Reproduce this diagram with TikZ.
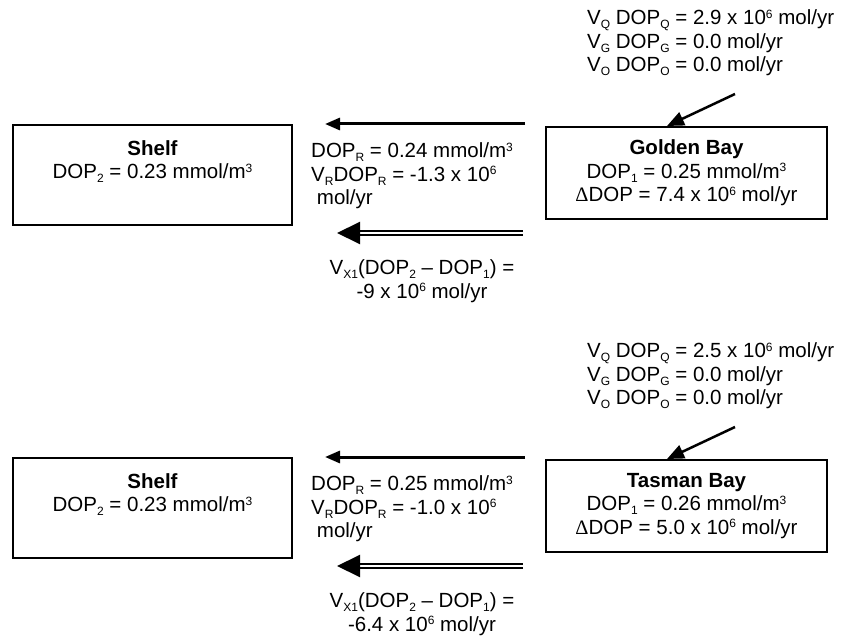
\documentclass[tikz,border=0pt]{standalone}
\usepackage{fontspec}
\setmainfont{Liberation Sans}
\newfontfamily\dsym{Liberation Serif}
\usetikzlibrary{arrows.meta,calc}
\newcommand{\sbx}[1]{\raisebox{-0.35ex}{\fontsize{12}{12}\selectfont #1}}
\newcommand{\spx}[1]{\raisebox{0.6ex}{\fontsize{12}{12}\selectfont #1}}
\tikzset{
  txt/.style={font=\fontsize{20.5}{23.5}\selectfont, inner sep=0pt},
  boxnode/.style={draw, line width=2pt, txt, align=center},
  singlearrow/.style={line width=3pt, -{Triangle[length=15pt,width=12pt]}},
  doublearrow/.style={line width=2pt, double, double distance=2.5pt, -{Triangle[length=23pt,width=22pt]}},
  diagarrow/.style={line width=2.5pt, -{Triangle[length=17pt,width=14pt]}}
}
\begin{document}
\begin{tikzpicture}[x=1pt,y=-1pt]
\useasboundingbox (0,0) rectangle (847,639);
% ---------- top block ----------
\node[txt, anchor=west, align=left] (qtop) at (587,43)
  {V\sbx{Q} DOP\sbx{Q} = 2.9 x 10\spx{6} mol/yr\\
   V\sbx{G} DOP\sbx{G} = 0.0 mol/yr\\
   V\sbx{O} DOP\sbx{O} = 0.0 mol/yr};
\node[boxnode, minimum width=279pt, minimum height=100pt] (shelfA) at (152.5,175)
  {\textbf{Shelf}\\DOP\sbx{2} = 0.23 mmol/m\spx{3}\\\strut};
\node[boxnode, minimum width=281pt, minimum height=92pt] (gbay) at (686.5,173)
  {\textbf{Golden Bay}\\DOP\sbx{1} = 0.25 mmol/m\spx{3}\\{\dsym Δ}DOP = 7.4 x 10\spx{6} mol/yr};
\coordinate (qaT) at (735,94);
\draw[diagarrow] (qaT) -- ([xshift=122pt]gbay.north west);
\coordinate (raT) at (525,124);
\coordinate (rbT) at (325,124);
\draw[singlearrow] (raT) -- (rbT);
\node[txt, anchor=west, align=left] (rtxtA) at (311,176)
  {DOP\sbx{R} = 0.24 mmol/m\spx{3}\\
   V\sbx{R}DOP\sbx{R} = -1.3 x 10\spx{6}\\
   \hspace{0.28em}mol/yr};
\coordinate (xaT) at (523,233);
\coordinate (xbT) at (337,233);
\draw[doublearrow] (xaT) -- (xbT);
\node[txt, align=center] (xtxtA) at (422,281)
  {V\sbx{X1}(DOP\sbx{2} – DOP\sbx{1}) =\\-9 x 10\spx{6} mol/yr};
% ---------- bottom block ----------
\begin{scope}[shift={(0,333)}]
\node[txt, anchor=west, align=left] (qbot) at (587,43)
  {V\sbx{Q} DOP\sbx{Q} = 2.5 x 10\spx{6} mol/yr\\
   V\sbx{G} DOP\sbx{G} = 0.0 mol/yr\\
   V\sbx{O} DOP\sbx{O} = 0.0 mol/yr};
\node[boxnode, minimum width=279pt, minimum height=100pt] (shelfB) at (152.5,175)
  {\textbf{Shelf}\\DOP\sbx{2} = 0.23 mmol/m\spx{3}\\\strut};
\node[boxnode, minimum width=281pt, minimum height=92pt] (tbay) at (686.5,173)
  {\textbf{Tasman Bay}\\DOP\sbx{1} = 0.26 mmol/m\spx{3}\\{\dsym Δ}DOP = 5.0 x 10\spx{6} mol/yr};
\coordinate (qaB) at (735,94);
\draw[diagarrow] (qaB) -- ([xshift=122pt]tbay.north west);
\coordinate (raB) at (525,124);
\coordinate (rbB) at (325,124);
\draw[singlearrow] (raB) -- (rbB);
\node[txt, anchor=west, align=left] (rtxtB) at (311,176)
  {DOP\sbx{R} = 0.25 mmol/m\spx{3}\\
   V\sbx{R}DOP\sbx{R} = -1.0 x 10\spx{6}\\
   \hspace{0.28em}mol/yr};
\coordinate (xaB) at (523,233);
\coordinate (xbB) at (337,233);
\draw[doublearrow] (xaB) -- (xbB);
\node[txt, align=center] (xtxtB) at (422,281)
  {V\sbx{X1}(DOP\sbx{2} – DOP\sbx{1}) =\\-6.4 x 10\spx{6} mol/yr};
\end{scope}
\end{tikzpicture}
\end{document}
